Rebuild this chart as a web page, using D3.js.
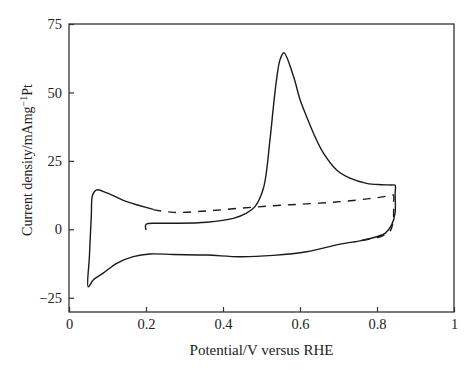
<!DOCTYPE html>
<html>
<head>
<meta charset="utf-8">
<script src="https://cdn.jsdelivr.net/npm/d3@7"></script>
<style>
  body { margin: 0; background: #fff; }
  svg text { font-family: "Liberation Serif", "Times New Roman", serif; fill: #222; }
</style>
</head>
<body>
<div id="chart"></div>
<script>
// tick values
const xTicks = [0, 0.2, 0.4, 0.6, 0.8, 1]
const yTicks = [-25, 0, 25, 50, 75]

// solid CV trace: [potential V, current density]
const solidCurve = [
  [0.2, -0.3], [0.2, 1.8], [0.236, 2.2], [0.271, 2.2], [0.358, 2.6], [0.427, 4.0],
  [0.461, 5.9], [0.483, 8.3], [0.505, 15.0], [0.522, 32.7], [0.531, 44.9],
  [0.539, 54.6], [0.548, 61.9], [0.558, 64.5], [0.583, 55.9], [0.6, 47.4],
  [0.617, 41.2], [0.635, 35.1], [0.661, 27.8], [0.695, 21.7], [0.73, 18.7],
  [0.773, 16.8], [0.81, 16.3], [0.838, 16.2], [0.847, 16.1], [0.847, 13],
  [0.847, 5.9], [0.838, 1.6], [0.821, -1.5], [0.799, -2.7], [0.756, -4.2],
  [0.704, -5.4], [0.617, -8.2], [0.531, -9.5], [0.444, -10.0],
  [0.358, -9.4], [0.271, -9.2], [0.21, -9.0], [0.167, -10], [0.124, -12.4],
  [0.088, -16.1], [0.063, -18.5], [0.05, -21.0], [0.053, -10], [0.058, 5],
  [0.0615, 12.6], [0.072, 14.4], [0.1, 13.2], [0.15, 10.1], [0.219, 7.3]
]

// dashed CV trace
const dashedCurve = [
  [0.219, 7.2], [0.271, 6.2], [0.358, 6.7], [0.444, 7.7], [0.531, 8.6],
  [0.617, 9.3], [0.704, 10.1], [0.78, 11.2], [0.835, 12.3], [0.843, 12.5],
  [0.843, 10], [0.843, 5], [0.841, 2.2], [0.833, -0.9], [0.808, -2.7],
  [0.77, -3.8], [0.74, -4.6]
]

const width = 474
const height = 374
const margin = { TOP: 24, RIGHT: 20, BOTTOM: 62, LEFT: 69 }

const svg = d3.select('#chart')
  .append('svg')
  .attr('width', width)
  .attr('height', height)

const x = d3.scaleLinear()
  .domain([0, 1])
  .range([margin.LEFT, width - margin.RIGHT])

const y = d3.scaleLinear()
  .domain([-30.2, 75])
  .range([height - margin.BOTTOM, margin.TOP])

const axisColor = '#333'
const serif = '"Liberation Serif", "Times New Roman", serif'

// frame
svg.append('rect')
  .attr('x', x(0))
  .attr('y', y(75))
  .attr('width', x(1) - x(0))
  .attr('height', y(-30.2) - y(75))
  .attr('fill', 'none')
  .attr('stroke', axisColor)
  .attr('stroke-width', 1.3)

const fmt = d => (d < 0 ? '\u2212' + Math.abs(d) : String(d))

const styleAxis = g => {
  g.attr('font-family', serif).attr('font-size', 14.5)
  g.select('.domain').remove()
  g.selectAll('.tick line').attr('stroke', axisColor).attr('stroke-width', 1.2)
  g.selectAll('text').attr('fill', '#222')
}

svg.append('g')
  .attr('transform', `translate(0, ${y(-30.2)})`)
  .call(d3.axisBottom(x).tickValues(xTicks).tickSizeInner(-5).tickSizeOuter(0).tickPadding(7).tickFormat(fmt))
  .call(styleAxis)

svg.append('g')
  .attr('transform', `translate(${x(0)}, 0)`)
  .call(d3.axisLeft(y).tickValues(yTicks).tickSizeInner(-5).tickSizeOuter(0).tickPadding(7).tickFormat(fmt))
  .call(styleAxis)

const line = d3.line()
  .x(d => x(d[0]))
  .y(d => y(d[1]))
  .curve(d3.curveCatmullRom.alpha(0.5))

svg.append('path')
  .datum(solidCurve)
  .attr('d', line)
  .attr('fill', 'none')
  .attr('stroke', '#1a1a1a')
  .attr('stroke-width', 1.4)

svg.append('path')
  .datum(dashedCurve)
  .attr('d', line)
  .attr('fill', 'none')
  .attr('stroke', '#1a1a1a')
  .attr('stroke-width', 1.4)
  .attr('stroke-dasharray', '8,7')

// axis titles
svg.append('text')
  .attr('x', (x(0) + x(1)) / 2)
  .attr('y', 355)
  .attr('text-anchor', 'middle')
  .attr('font-size', 15)
  .text('Potential/V versus RHE')

const yTitle = svg.append('text')
  .attr('transform', `translate(32, 160) rotate(-90)`)
  .attr('text-anchor', 'middle')
  .attr('font-size', 14)
yTitle.append('tspan').text('Current density/mAmg')
yTitle.append('tspan').attr('dy', -5).attr('font-size', 10).text('\u22121')
yTitle.append('tspan').attr('dy', 5).text('Pt')
</script>
</body>
</html>
